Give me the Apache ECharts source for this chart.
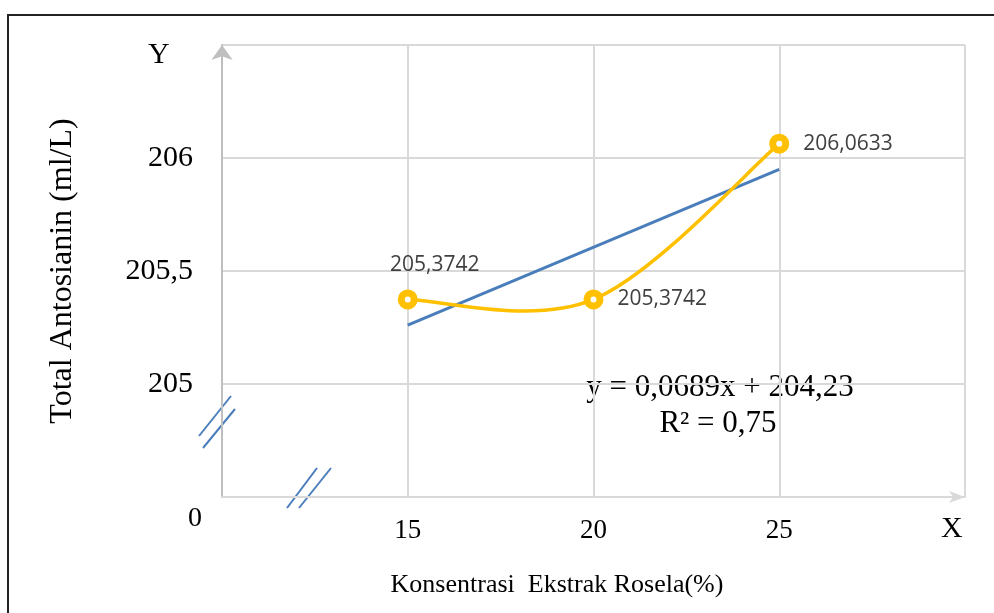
<!DOCTYPE html>
<html>
<head>
<meta charset="utf-8">
<script src="https://cdn.jsdelivr.net/npm/echarts@6/dist/echarts.min.js"></script>
<style>
  html, body { margin: 0; padding: 0; background: #fff; }
  #chart { width: 994px; height: 613px; }
</style>
</head>
<body>
<div id="chart"></div>
<script>
// data
const konsentrasi = [15, 20, 25];
const antosianin = [205.3742, 205.3742, 206.0633];
const trendX = [15, 25];
const trendY = [205.26, 205.95];
const equationText = "y = 0,0689x + 204,23";
const r2Text = "R\u00b2 = 0,75";

const serif = "Liberation Serif, Times New Roman, serif";
const comma = (v) => String(v).replace(".", ",");

const chart = echarts.init(document.getElementById("chart"));

// label placement per point (like excel: first above, others right)
const labelPos = [
  { position: "top", distance: 14, offset: [27, 0] },
  { position: "right", distance: 14 },
  { position: "right", distance: 14 },
];

// excel style smoothed line through the points (cubic bezier, tension 1/6)
function smoothCurve(params, api) {
  if (params.dataIndex !== 0) return;
  const pts = konsentrasi.map((x, i) => api.coord([x, antosianin[i]]));
  const n = pts.length;
  let d = "M" + pts[0][0] + " " + pts[0][1];
  for (let i = 0; i < n - 1; i++) {
    const p0 = pts[Math.max(i - 1, 0)];
    const p1 = pts[i];
    const p2 = pts[i + 1];
    const p3 = pts[Math.min(i + 2, n - 1)];
    const c1 = [p1[0] + (p2[0] - p0[0]) / 6, p1[1] + (p2[1] - p0[1]) / 6];
    const c2 = [p2[0] - (p3[0] - p1[0]) / 6, p2[1] - (p3[1] - p1[1]) / 6];
    d += " C" + c1[0] + " " + c1[1] + " " + c2[0] + " " + c2[1] + " " + p2[0] + " " + p2[1];
  }
  return {
    type: "path",
    shape: { pathData: d },
    style: { fill: "none", stroke: "#ffc000", lineWidth: 3.5 },
  };
}

const option = {
  animation: false,
  grid: { left: 222, right: 29, top: 45, bottom: 116 },
  xAxis: {
    type: "value",
    min: 10,
    max: 30,
    interval: 5,
    axisLine: {
      show: true,
      symbol: ["none", "arrow"],
      symbolSize: [9, 16],
      lineStyle: { color: "#d9d9d9", width: 2 },
    },
    axisTick: { show: false },
    splitLine: { show: true, lineStyle: { color: "#d9d9d9", width: 2 } },
    axisLabel: {
      fontFamily: serif,
      fontSize: 27,
      color: "#000",
      margin: 20,
      formatter: (v) => (v === 10 || v === 30 ? "" : comma(v)),
    },
  },
  yAxis: {
    type: "value",
    min: 204.5,
    max: 206.5,
    interval: 0.5,
    name: "Total Antosianin (ml/L)",
    nameLocation: "middle",
    nameGap: 143,
    nameTextStyle: { fontFamily: serif, fontSize: 32, color: "#000" },
    axisLine: {
      show: true,
      symbol: ["none", "arrow"],
      symbolSize: [16, 15],
      lineStyle: { color: "#bfbfbf", width: 2 },
    },
    axisTick: { show: false },
    splitLine: { show: true, lineStyle: { color: "#d9d9d9", width: 2 } },
    axisLabel: {
      fontFamily: serif,
      fontSize: 30,
      color: "#000",
      margin: 29,
      formatter: (v) => (v === 204.5 || v === 206.5 ? "" : comma(v)),
    },
  },
  series: [
    {
      name: "Linear",
      type: "line",
      data: trendX.map((x, i) => [x, trendY[i]]),
      symbol: "none",
      lineStyle: { color: "#4a7ebb", width: 3 },
      z: 2,
    },
    {
      name: "Kurva",
      type: "custom",
      data: konsentrasi.map((x, i) => [x, antosianin[i]]),
      encode: { x: 0, y: 1 },
      renderItem: smoothCurve,
      silent: true,
      z: 3,
    },
    {
      name: "Total Antosianin",
      type: "scatter",
      data: konsentrasi.map((x, i) => ({
        value: [x, antosianin[i]],
        label: labelPos[i],
      })),
      symbol: "circle",
      symbolSize: 13,
      itemStyle: { color: "#fff", borderColor: "#ffc000", borderWidth: 7, opacity: 1 },
      label: {
        show: true,
        fontFamily: "Open Sans, Noto Sans, sans-serif",
        fontSize: 21,
        color: "#404040",
        formatter: (p) => comma(p.value[1]),
      },
      z: 4,
    },
  ],
  graphic: [
    // outer frame
    {
      type: "rect",
      shape: { x: 8, y: 15, width: 1000, height: 700 },
      style: { fill: "none", stroke: "#222", lineWidth: 2 },
      silent: true,
    },
    // axis break marks
    { type: "line", shape: { x1: 199, y1: 436, x2: 231, y2: 396 }, style: { stroke: "#4a7ebb", lineWidth: 2 } },
    { type: "line", shape: { x1: 203, y1: 448, x2: 235, y2: 409 }, style: { stroke: "#4a7ebb", lineWidth: 2 } },
    { type: "line", shape: { x1: 287, y1: 508, x2: 317, y2: 468 }, style: { stroke: "#4a7ebb", lineWidth: 2 } },
    { type: "line", shape: { x1: 299, y1: 508, x2: 331, y2: 468 }, style: { stroke: "#4a7ebb", lineWidth: 2 } },
    // axis letters
    {
      type: "text", left: 148, top: 40,
      style: { text: "Y", font: "30px " + serif, fill: "#000" },
    },
    {
      type: "text", left: 188, top: 505,
      style: { text: "0", font: "28px " + serif, fill: "#000" },
    },
    {
      type: "text", left: 941, top: 514,
      style: { text: "X", font: "30px " + serif, fill: "#000" },
    },
    // trendline equation
    {
      type: "text", x: 720, y: 388,
      style: { text: equationText, font: "31px " + serif, fill: "#000", align: "center", verticalAlign: "middle" },
    },
    {
      type: "text", x: 718, y: 424,
      style: { text: r2Text, font: "31px " + serif, fill: "#000", align: "center", verticalAlign: "middle" },
    },
    // x axis title
    {
      type: "text", x: 557, y: 585,
      style: { text: "Konsentrasi  Ekstrak Rosela(%)", font: "26px " + serif, fill: "#000", align: "center", verticalAlign: "middle" },
    },
  ],
};

chart.setOption(option);
</script>
</body>
</html>
